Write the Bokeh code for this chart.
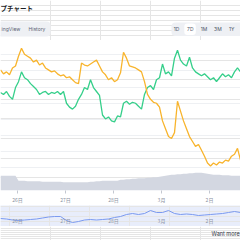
from bokeh.plotting import figure
from bokeh.layouts import column
from bokeh.models import Range1d, FixedTicker, Grid, BoxAnnotation
from bokeh.core.properties import value
from bokeh.embed import file_html
from bokeh.resources import INLINE

# ---------------- data ----------------
title_text = "プチャート"
tab_left = "ingView"
tab_right = "History"
ranges = ["1D", "7D", "1M", "3M", "1Y"]
selected = "7D"
footer_text = "Want more"

tick_hours = [24, 48, 72, 96, 120]
tick_labels = ["26日", "27日", "28日", "3月", "2日"]

# hours since 25日 00:00, sampled every 1.5 h
hours = [15.5 + 1.5 * i for i in range(81)]

orange = [130, 126, 128, 125, 132, 134, 144, 152, 146, 144,
          142, 138, 140, 135, 137, 132, 130, 128, 129, 126,
          124, 125, 122, 123, 120, 117, 116, 137, 135, 134,
          136, 138, 140, 134, 128, 125, 120, 122, 118, 120,
          127, 148, 142, 134, 133, 132, 130, 128, 118, 105,
          100, 97, 96, 92, 78, 70, 62, 60, 66, 98,
          88, 78, 70, 62, 57, 52, 54, 48, 42, 35,
          32, 35, 33, 36, 35, 38, 37, 42, 44, 50,
          38]

green = [107, 105, 108, 103, 100, 112, 118, 128, 122, 120,
         116, 113, 110, 105, 107, 108, 105, 107, 106, 108,
         105, 108, 96, 92, 90, 93, 100, 105, 112, 110,
         120, 112, 108, 104, 84, 80, 82, 78, 77, 83,
         82, 96, 98, 95, 97, 96, 93, 90, 105, 112,
         114, 110, 120, 122, 136, 126, 128, 124, 142, 150,
         140, 136, 134, 143, 132, 128, 126, 124, 126, 123,
         120, 122, 118, 122, 126, 123, 125, 122, 128, 132,
         128]

volume = [15, 15, 15, 15, 15, 15,
          10, 10, 10, 9.5, 9.5, 9.5, 9.5, 9.5, 9, 9, 9, 9, 9, 9, 9,
          8.5, 8.5, 8.5, 8.5, 8.5, 8.5, 8.5, 8.5, 8.5, 9, 9, 9.5, 9.5,
          10, 10, 10, 10, 10, 10, 11,
          11, 11.5, 11.5, 12, 12, 12.5, 12.5, 12.5, 13, 13, 13.5, 13.5, 14,
          14.5, 15, 15.5, 16, 16, 16.5, 16.5, 17, 17, 17.5, 17.5, 18, 18, 18,
          17.5, 17, 16.5, 16, 16, 16, 15.5, 15.5, 15.5, 15, 15, 15, 15]

nav_hours = [15.5 + 3 * i for i in range(41)]
nav_line = [8, 7.5, 6.5, 6, 6.5, 7, 7.5, 8.5, 9.5, 10,
            10, 6, 4, 5, 6.5, 7, 6.5, 7, 7.5, 9,
            10, 12, 13, 12, 13, 16, 14, 14, 16, 13,
            12, 12.5, 12, 11, 11.5, 12, 12.5, 13, 14, 15,
            14]

# ---------------- style ----------------
JP = value("Noto Sans CJK JP")
LAT = value("Inter")
ORANGE = "#f8b42c"
GREEN = "#35cf8a"
W = 240


def plain(h, xr, yr):
    p = figure(width=W, height=h, x_range=xr, y_range=yr, output_backend="svg",
               toolbar_location=None, min_border=0, x_axis_location=None,
               y_axis_location=None)
    p.outline_line_color = None
    p.border_fill_color = "white"
    return p


def box(p, l, r, t, b, color, rad):
    p.add_layout(BoxAnnotation(left=l, right=r, top=t, bottom=b, fill_color=color,
                               fill_alpha=1, line_color=None, border_radius=rad,
                               level="underlay"))


# ---------------- header ----------------
head = plain(40, Range1d(0, W), Range1d(40, 0))
head.text(x=[0], y=[7], text=[title_text], text_font=JP, text_font_style="bold",
          text_font_size="6.5px", text_color="#1b1e26", text_baseline="middle")
box(head, -10, 50, 21, 36, "#eef0f4", 4)
head.text(x=[1], y=[28.5], text=[tab_left], text_font=LAT, text_font_size="5px",
          text_color="#5b6272", text_baseline="middle", text_align="left")
head.text(x=[28], y=[28.5], text=[tab_right], text_font=LAT, text_font_size="5px",
          text_color="#5b6272", text_baseline="middle", text_align="left")
box(head, 171, 250, 22, 35.5, "#eef0f4", 4)
bx = [176 + 13.8 * i for i in range(len(ranges))]
si = ranges.index(selected)
box(head, bx[si] - 6, bx[si] + 5.5, 23, 34.5, "white", 3)
head.text(x=bx, y=[28.8] * len(ranges), text=ranges, text_font=LAT, text_font_size="5px",
          text_color="#4d5566", text_baseline="middle", text_align="center")

# ---------------- main chart ----------------
xr = Range1d(15.5, 135.5)
main = figure(width=W, height=165, x_range=xr, y_range=Range1d(7, 160),
              output_backend="svg", toolbar_location=None, min_border=0,
              x_axis_location="below", y_axis_location=None)
main.outline_line_color = None
main.xgrid.visible = False
grid_ticks = [30 + 16.5 * i for i in range(8)]
main.add_layout(Grid(dimension=1, ticker=FixedTicker(ticks=grid_ticks),
                     grid_line_color="#eef0f3", grid_line_width=1))
main.extra_y_ranges = {"vol": Range1d(0, 153)}
main.varea(x=hours, y1=0, y2=volume, y_range_name="vol", fill_color="#d3d7e1")
main.line(hours, green, line_color=GREEN, line_width=1.3)
main.line(hours, orange, line_color=ORANGE, line_width=1.3)

ax = main.xaxis[0]
ax.ticker = FixedTicker(ticks=tick_hours)
ax.major_label_overrides = dict(zip(tick_hours, tick_labels))
ax.axis_line_color = None
ax.major_tick_in = 0
ax.major_tick_out = 3
ax.major_tick_line_color = "#c3c7d0"
ax.minor_tick_line_color = None
ax.major_label_standoff = 2
ax.major_label_text_font = "Noto Sans CJK JP"
ax.major_label_text_font_size = "5px"
ax.major_label_text_color = "#8a91a0"

# ---------------- navigator ----------------
nav = plain(21, xr, Range1d(0, 21))
nav.background_fill_color = "#e8edfb"
nav.line(nav_hours, nav_line, line_color="#7b9af0", line_width=1)
nav.text(x=tick_hours, y=[6] * len(tick_hours), text=tick_labels, text_font=JP,
         text_font_size="5px", text_color="#8d95a8", text_align="center",
         text_baseline="middle")

# ---------------- footer ----------------
foot = plain(14, Range1d(0, W), Range1d(14, 0))
foot.text(x=[211], y=[7], text=[footer_text], text_font=LAT, text_font_size="5.5px",
          text_color="#333844", text_baseline="middle")

layout = column(head, main, nav, foot, spacing=0)
open("out.html", "w").write(file_html(layout, INLINE))
